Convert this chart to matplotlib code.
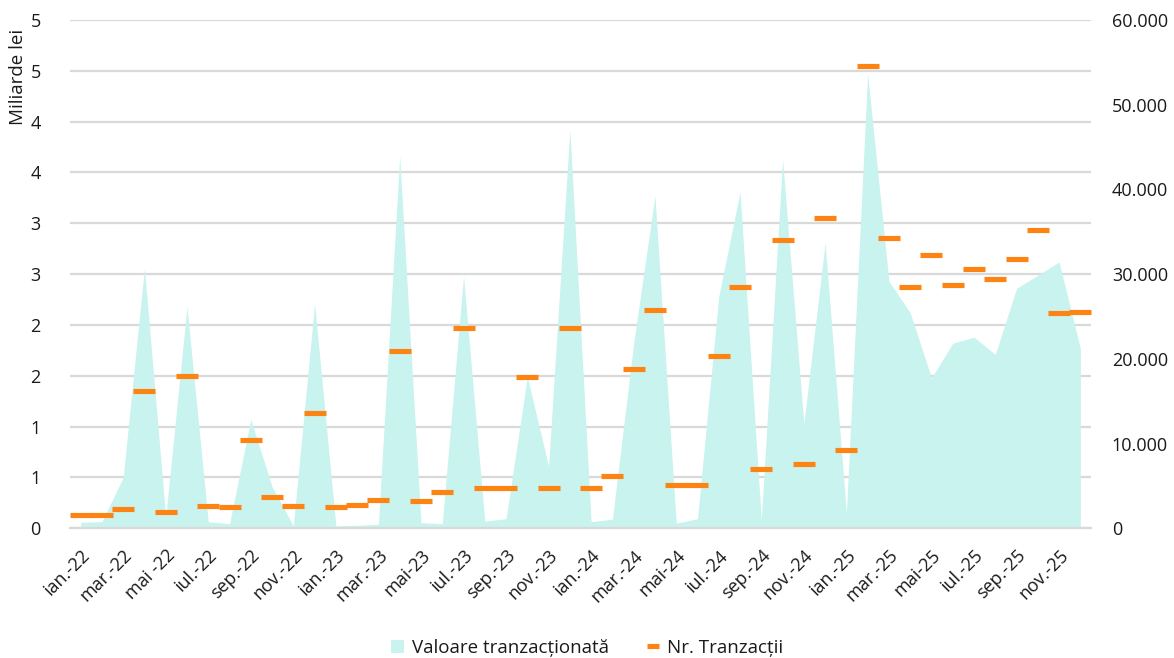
import matplotlib
matplotlib.use("Agg")
import matplotlib.pyplot as plt
from matplotlib.patches import Patch
from matplotlib.lines import Line2D
import numpy as np

plt.rcParams['font.family'] = ['Open Sans', 'DejaVu Sans']

months = ["ian.-22", "feb.-22", "mar.-22", "apr.-22", "mai -22", "iun.-22", "iul.-22", "aug.-22",
          "sep.-22", "oct.-22", "nov.-22", "dec.-22",
          "ian.-23", "feb.-23", "mar.-23", "apr.-23", "mai-23", "iun.-23", "iul.-23", "aug.-23",
          "sep.-23", "oct.-23", "nov.-23", "dec.-23",
          "ian.-24", "feb.-24", "mar.-24", "apr.-24", "mai-24", "iun.-24", "iul.-24", "aug.-24",
          "sep.-24", "oct.-24", "nov.-24", "dec.-24",
          "ian.-25", "feb.-25", "mar.-25", "apr.-25", "mai-25", "iun.-25", "iul.-25", "aug.-25",
          "sep.-25", "oct.-25", "nov.-25", "dec.-25"]

# Valoare tranzactionata (miliarde lei)
valoare = [0.06, 0.065, 0.50, 2.56, 0.11, 2.18, 0.065, 0.045, 1.07, 0.41, 0.025, 2.21,
           0.025, 0.03, 0.04, 3.66, 0.055, 0.045, 2.48, 0.07, 0.095, 1.49, 0.61, 3.92,
           0.065, 0.09, 1.82, 3.27, 0.05, 0.095, 2.28, 3.31, 0.08, 3.63, 1.03, 2.81,
           0.15, 4.47, 2.43, 2.12, 1.48, 1.82, 1.88, 1.71, 2.36, 2.49, 2.62, 1.77]

# Nr. tranzactii
nr_tranzactii = [1540, 1540, 2240, 16180, 1890, 17950, 2600, 2480, 10390, 3660, 2600, 13580,
                 2480, 2720, 3310, 20900, 3190, 4250, 23620, 4720, 4720, 17830, 4720, 23620,
                 4720, 6140, 18780, 25750, 5080, 5080, 20310, 28460, 6970, 34000, 7560, 36610,
                 9210, 54560, 34250, 28460, 32240, 28700, 30590, 29410, 31770, 35190, 25390, 25510]

left_ticks = [0, 0.5, 1, 1.5, 2, 2.5, 3, 3.5, 4, 4.5, 5]
left_tick_labels = ["0", "1", "1", "2", "2", "3", "3", "4", "4", "5", "5"]
right_ticks = [0, 10000, 20000, 30000, 40000, 50000, 60000]
right_tick_labels = ["0", "10.000", "20.000", "30.000", "40.000", "50.000", "60.000"]

area_color = "#c8f3ee"
orange = "#fd8313"
grid_color = "#d9d9d9"
text_color = "#1a1a1a"
fs = 13

W, H = 1174, 658
fig = plt.figure(figsize=(W / 100, H / 100), dpi=100)
left, right, top, bottom = 70, 1091, 20, 528.3
ax = fig.add_axes([left / W, 1 - bottom / H, (right - left) / W, (bottom - top) / H])

x = np.arange(len(months))
ax.fill_between(x, 0, valoare, color=area_color, linewidth=0, zorder=2)
ax.set_xlim(-0.5, len(months) - 0.5)
ax.set_ylim(0, 5)
ax.set_yticks(left_ticks)
ax.set_yticklabels(left_tick_labels)
ax.grid(axis='y', color=grid_color, linewidth=1.6, zorder=0)
ax.set_axisbelow(True)
for s in ['top', 'right', 'left']:
    ax.spines[s].set_visible(False)
ax.spines['bottom'].set_color(grid_color)
ax.spines['bottom'].set_linewidth(1.6)
ax.tick_params(axis='y', length=0, pad=21, labelsize=fs, labelcolor=text_color)
ax.set_xticks(x[::2])
ax.set_xticklabels(months[::2], rotation=45, ha='right', va='top', rotation_mode='anchor')
ax.tick_params(axis='x', length=0, pad=13, labelsize=fs, labelcolor=text_color)

ax2 = ax.twinx()
ax2.plot(x, nr_tranzactii, linestyle='none', marker='_', markersize=15.4, mew=3.7,
         color=orange, zorder=3)
ax2.set_ylim(0, 60000)
ax2.set_yticks(right_ticks)
ax2.set_yticklabels(right_tick_labels)
for s in ['top', 'right', 'left', 'bottom']:
    ax2.spines[s].set_visible(False)
ax2.tick_params(axis='y', length=0, pad=15, labelsize=fs, labelcolor=text_color)

fig.text(18 / W, 1 - 77 / H, "Miliarde lei", rotation=90, ha='center', va='center',
         fontsize=13.5, color=text_color)

handles = [Patch(facecolor=area_color, edgecolor='none'),
           Line2D([0], [0], linestyle='none', marker='_', markersize=8, mew=3.7, color=orange)]
fig.legend(handles, ["Valoare tranzacționată", "Nr. Tranzacții"], loc='center',
           bbox_to_anchor=(0.5, 1 - 648 / H), ncol=2, frameon=False, fontsize=13.5,
           handlelength=0.7, handletextpad=0.4, columnspacing=2.0, labelcolor=text_color)

fig.savefig("out.png", dpi=100)
